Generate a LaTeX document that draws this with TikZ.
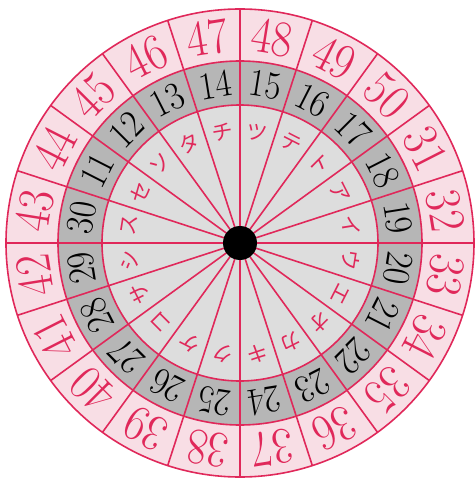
\documentclass[tikz,border=0pt]{standalone}
\usepackage{fontspec}
\newfontfamily\jpfont{Noto Sans CJK JP}
\definecolor{cdRed}{HTML}{E0285A}
\definecolor{cdPink}{HTML}{F8DEE5}
\definecolor{cdGray}{HTML}{B6B6B6}
\definecolor{cdLight}{HTML}{DDDDDD}

\begin{document}
\begin{tikzpicture}[x=1pt, y=1pt,
  outernum/.style={text=cdRed, inner sep=0pt, font=\fontsize{51}{51}\selectfont},
  midnum/.style={text=black, inner sep=0pt, font=\fontsize{39}{39}\selectfont},
  kana/.style={text=cdRed, inner sep=0pt, font=\jpfont\fontsize{21}{21}\selectfont},
  ringline/.style={cdRed, line width=1.6pt}]
  \useasboundingbox (-240,-239) rectangle (235,243);
  % ringe
  \fill[cdPink] (0,0) circle (234);
  \fill[cdGray] (0,0) circle (182);
  \fill[cdLight] (0,0) circle (138);
  % speichen
  \foreach \a in {0,18,...,342}{\draw[ringline] (0,0)--(\a:234);}
  \draw[ringline] (0,0) circle (234) (0,0) circle (182) (0,0) circle (138);
  % beschriftung
  \foreach \k [count=\i from 0] in {ツ,テ,ト,ア,イ,ウ,エ,オ,カ,キ,ク,ケ,コ,サ,シ,ス,セ,ソ,タ,チ}{
    \pgfmathsetmacro{\a}{81-18*\i}
    \pgfmathtruncatemacro{\no}{31+mod(17+\i,20)}
    \pgfmathtruncatemacro{\nm}{11+mod(4+\i,20)}
    \node[outernum, rotate=\a-90, xscale=0.88] (o\no) at (\a:208) {\no};
    \node[midnum, rotate=\a-90, xscale=0.9] (m\nm) at (\a:160) {\nm};
    \node[kana, rotate=\a-90] (k\i) at (\a:112) {\k};
  }
  % mitte
  \fill[black] (0,0) circle (17);
\end{tikzpicture}
\end{document}
